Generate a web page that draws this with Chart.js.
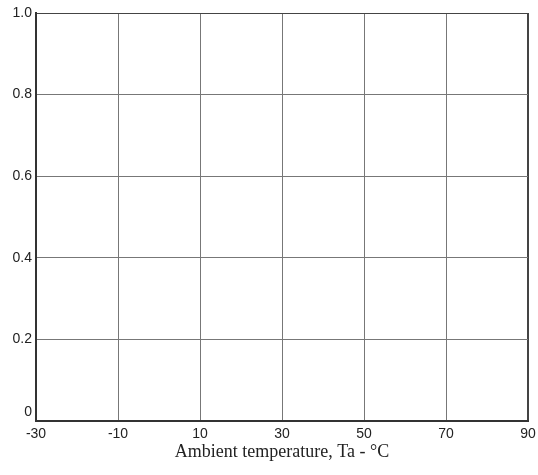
<!DOCTYPE html>
<html>
<head>
<meta charset="utf-8">
<script src="https://cdn.jsdelivr.net/npm/chart.js@4/dist/chart.umd.min.js"></script>
<style>
  html, body { margin: 0; padding: 0; background: #fff; }
  #wrap { width: 538px; height: 475px; position: relative; }
</style>
</head>
<body>
<div id="wrap"><canvas id="my-chart"></canvas></div>
<script>
let xTicks = [-30, -10, 10, 30, 50, 70, 90];
let yTicks = [0, 0.2, 0.4, 0.6, 0.8, 1.0];
let xTitle = 'Ambient temperature, Ta - °C';
// the reference graph is empty, no curves drawn
let seriesValues = [];

let chartcontext = document.getElementById('my-chart').getContext('2d');

function edgecolor(ctx, max) {
  if (ctx.tick && ctx.tick.value === max) {
    return '#444';
  }
  return '#777';
}

function edgewidth(ctx, max) {
  if (ctx.tick && ctx.tick.value === max) {
    return 2;
  }
  return 1;
}

let chartConfig = {
  type: 'scatter',
  data: {
    datasets: [{
      label: 'curve',
      data: seriesValues,
      showLine: true
    }]
  },
  options: {
    responsive: true,
    maintainAspectRatio: false,
    animation: false,
    layout: { padding: { top: 13, right: 10, left: 0, bottom: 0 } },
    plugins: { legend: { display: false }, tooltip: { enabled: false } },
    scales: {
      x: {
        type: 'linear',
        min: xTicks[0],
        max: xTicks[xTicks.length - 1],
        afterBuildTicks: function (scale) {
          scale.ticks = xTicks.map(function (v) { return { value: v }; });
        },
        afterFit: function (scale) {
          scale.height = 54;
          scale.paddingRight = 0;
          scale.paddingLeft = 0;
        },
        grid: {
          color: function (ctx) { return edgecolor(ctx, 90); },
          lineWidth: function (ctx) { return edgewidth(ctx, 90); },
          drawTicks: false
        },
        border: { color: '#333', width: 2 },
        ticks: {
          padding: 5,
          color: '#222',
          font: { family: 'Liberation Sans', size: 14 },
          maxRotation: 0,
          callback: function (v) { return String(v); }
        },
        title: {
          display: true,
          text: xTitle,
          color: '#222',
          font: { family: 'Liberation Serif', size: 18 },
          padding: { top: 4, bottom: 12 }
        }
      },
      y: {
        type: 'linear',
        min: yTicks[0],
        max: yTicks[yTicks.length - 1],
        afterBuildTicks: function (scale) {
          scale.ticks = yTicks.map(function (v) { return { value: v }; });
        },
        afterFit: function (scale) { scale.width = 36; },
        grid: {
          color: function (ctx) { return edgecolor(ctx, 1); },
          lineWidth: 1,
          drawTicks: false
        },
        border: { color: '#333', width: 2 },
        ticks: {
          padding: 4,
          color: '#222',
          font: { family: 'Liberation Sans', size: 14 },
          callback: function (v) {
            if (v === 0) {
              return ['0', ''];
            }
            return v.toFixed(1);
          }
        }
      }
    }
  }
};

let mychart = new Chart(chartcontext, chartConfig);
</script>
</body>
</html>
